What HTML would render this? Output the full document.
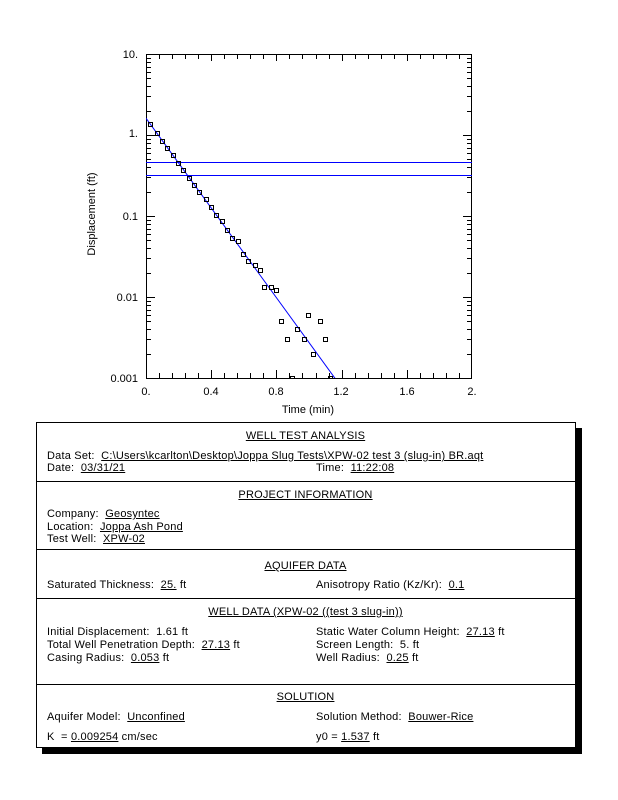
<!DOCTYPE html>
<html>
<head>
<meta charset="utf-8">
<style>
  html,body{margin:0;padding:0;background:#fff;}
  body{width:618px;height:800px;position:relative;overflow:hidden;font-family:"Liberation Sans",Arial,sans-serif;font-size:11px;color:#000;}
  svg{position:absolute;left:0;top:0;}
  .box{position:absolute;left:36px;top:422px;width:538px;height:324px;border:1px solid #000;box-shadow:6px 6px 0 #000;background:#fff;}
  .div{position:absolute;left:36px;width:539px;height:1px;background:#000;}
  .t{position:absolute;white-space:nowrap;line-height:13px;letter-spacing:0.2px;}
  .c{left:36px;width:539px;text-align:center;}
  u{text-decoration:underline;}
</style>
</head>
<body>
<svg width="618" height="420" viewBox="0 0 618 420" xmlns="http://www.w3.org/2000/svg" font-family="Liberation Sans, Arial, sans-serif" font-size="11">
  <defs>
    <clipPath id="pc"><rect x="146" y="54" width="326" height="324"/></clipPath>
  </defs>
  <rect x="146.5" y="54.5" width="325" height="324" fill="none" stroke="#000" stroke-width="1"/>
  <g stroke="#000" stroke-width="1" id="ticks"></g>
  <line x1="146" y1="162.5" x2="472" y2="162.5" stroke="#0000ff" stroke-width="1"/>
  <line x1="146" y1="175.5" x2="472" y2="175.5" stroke="#0000ff" stroke-width="1"/>
  <line x1="146" y1="118.2" x2="335" y2="378.3" stroke="#0000ff" stroke-width="1" clip-path="url(#pc)"/>
  <g id="pts" fill="none" stroke="#000" stroke-width="1" clip-path="url(#pc)"></g>
  <g text-anchor="end">
    <text x="138" y="58">10.</text>
    <text x="138" y="137">1.</text>
    <text x="138" y="220">0.1</text>
    <text x="138" y="301">0.01</text>
    <text x="138" y="382">0.001</text>
  </g>
  <g text-anchor="middle">
    <text x="146" y="395">0.</text>
    <text x="211" y="395">0.4</text>
    <text x="276" y="395">0.8</text>
    <text x="341" y="395">1.2</text>
    <text x="407" y="395">1.6</text>
    <text x="472" y="395">2.</text>
    <text x="308" y="413">Time (min)</text>
    <text x="0" y="0" transform="translate(95,214) rotate(-90)">Displacement (ft)</text>
  </g>
</svg>
<script>
(function(){
  var ns="http://www.w3.org/2000/svg";
  var g=document.getElementById("ticks");
  function ln(x1,y1,x2,y2){var l=document.createElementNS(ns,"line");l.setAttribute("x1",x1);l.setAttribute("y1",y1);l.setAttribute("x2",x2);l.setAttribute("y2",y2);g.appendChild(l);}
  for(var d=0;d<4;d++){
    for(var m=1;m<=9;m++){
      var y=378-(d+Math.log10(m))*81;
      var yy=Math.round(y)+0.5;
      var len=(m==1)?9:5;
      ln(146,yy,146+len,yy);
      ln(472,yy,472-len,yy);
    }
  }
  ln(146,54.5,155,54.5);ln(472,54.5,463,54.5);
  for(var k=0;k<=25;k++){
    var x=Math.round(146+k*0.08*163)+0.5;
    if(x>472)break;
    var maj=(k%5==0);
    ln(x,378,x,378-(maj?8:5));
    ln(x,54,x,54+(maj?7:5));
  }
  var pts=[[150,124],[157,133],[162,141],[167,148],[173,155],[178,163],[183,170],[189,178],[194,185],[199,192],[206,199],[211,207],[216,215],[222,221],[227,230],[232,238],[238,241],[243,254],[248,261],[255,265],[260,270],[264,287],[271,287],[276,290],[281,321],[287,339],[292,378],[297,329],[304,339],[308,315],[313,354],[320,321],[325,339],[330,378]];
  var pg=document.getElementById("pts");
  pts.forEach(function(p){var r=document.createElementNS(ns,"rect");r.setAttribute("x",p[0]-2+0.5);r.setAttribute("y",p[1]-2+0.5);r.setAttribute("width",4);r.setAttribute("height",4);pg.appendChild(r);});
})();
</script>

<div class="box"></div>
<div class="div" style="top:481px"></div>
<div class="div" style="top:549px"></div>
<div class="div" style="top:598px"></div>
<div class="div" style="top:684px"></div>

<div class="t c" style="top:430px"><u>WELL TEST ANALYSIS</u></div>
<div class="t" style="left:47px;top:450px">Data Set:&nbsp;&nbsp;<u>C:\Users\kcarlton\Desktop\Joppa Slug Tests\XPW-02 test 3 (slug-in) BR.aqt</u></div>
<div class="t" style="left:47px;top:462px">Date:&nbsp;&nbsp;<u>03/31/21</u></div>
<div class="t" style="left:316px;top:462px">Time:&nbsp;&nbsp;<u>11:22:08</u></div>

<div class="t c" style="top:489px"><u>PROJECT INFORMATION</u></div>
<div class="t" style="left:47px;top:508px">Company:&nbsp;&nbsp;<u>Geosyntec</u></div>
<div class="t" style="left:47px;top:521px">Location:&nbsp;&nbsp;<u>Joppa Ash Pond</u></div>
<div class="t" style="left:47px;top:533px">Test Well:&nbsp;&nbsp;<u>XPW-02</u></div>

<div class="t c" style="top:560px"><u>AQUIFER DATA</u></div>
<div class="t" style="left:47px;top:579px">Saturated Thickness:&nbsp;&nbsp;<u>25.</u> ft</div>
<div class="t" style="left:316px;top:579px">Anisotropy Ratio (Kz/Kr):&nbsp;&nbsp;<u>0.1</u></div>

<div class="t c" style="top:606px"><u>WELL DATA (XPW-02 ((test 3 slug-in))</u></div>
<div class="t" style="left:47px;top:626px">Initial Displacement:&nbsp;&nbsp;1.61 ft</div>
<div class="t" style="left:47px;top:639px">Total Well Penetration Depth:&nbsp;&nbsp;<u>27.13</u> ft</div>
<div class="t" style="left:47px;top:652px">Casing Radius:&nbsp;&nbsp;<u>0.053</u> ft</div>
<div class="t" style="left:316px;top:626px">Static Water Column Height:&nbsp;&nbsp;<u>27.13</u> ft</div>
<div class="t" style="left:316px;top:639px">Screen Length:&nbsp;&nbsp;5. ft</div>
<div class="t" style="left:316px;top:652px">Well Radius:&nbsp;&nbsp;<u>0.25</u> ft</div>

<div class="t c" style="top:691px"><u>SOLUTION</u></div>
<div class="t" style="left:47px;top:711px">Aquifer Model:&nbsp;&nbsp;<u>Unconfined</u></div>
<div class="t" style="left:316px;top:711px">Solution Method:&nbsp;&nbsp;<u>Bouwer-Rice</u></div>
<div class="t" style="left:47px;top:731px">K&nbsp;&nbsp;= <u>0.009254</u> cm/sec</div>
<div class="t" style="left:316px;top:731px">y0 = <u>1.537</u> ft</div>
</body>
</html>
